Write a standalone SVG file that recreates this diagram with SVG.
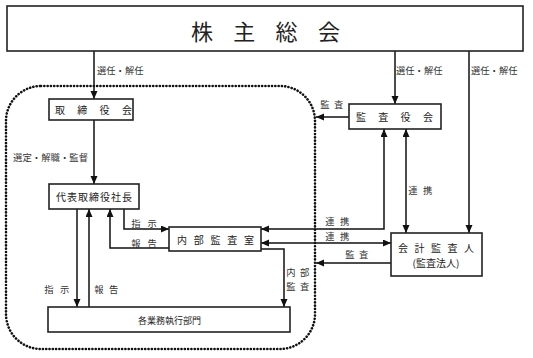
<svg xmlns="http://www.w3.org/2000/svg" width="533" height="358" viewBox="0 0 533 358">
<defs>
<marker id="ah" markerUnits="userSpaceOnUse" markerWidth="9" markerHeight="8" refX="8" refY="3.5" orient="auto-start-reverse">
<path d="M0,0 L8,3.5 L0,7 z" fill="#111"/>
</marker>
<style>
.box{fill:#fff;stroke:#222;stroke-width:1.6}
.t{font-family:"Noto Sans CJK JP","Noto Sans CJK SC",sans-serif;fill:#222;font-size:10px}
.l{font-family:"Noto Sans CJK JP","Noto Sans CJK SC",sans-serif;fill:#333;font-size:9.3px}
.c{fill:none;stroke:#111;stroke-width:1.5}
.a{marker-end:url(#ah)}
.b{marker-start:url(#ah);marker-end:url(#ah)}
.dot{fill:none;stroke:#111;stroke-width:2.6;stroke-dasharray:0.1 3.2;stroke-linecap:round}
</style>
</defs>
<rect class="dot" x="6" y="86" width="309" height="263" rx="35"/>
<g id="connectors">
<path class="c a" d="M94,51 V99"/>
<path class="c a" d="M395,51 V104"/>
<path class="c a" d="M469,51 V233"/>
<path class="c a" d="M94,120 V184"/>
<path class="c a" d="M349,117 H316"/>
<path class="c a" d="M77,209 V307"/>
<path class="c a" d="M89,307 V209"/>
<path class="c a" d="M124,209 V229 H169"/>
<path class="c a" d="M169,248 H110 V209"/>
<path class="c b" d="M261,229 H384 V129"/>
<path class="c b" d="M261,243 H391"/>
<path class="c b" d="M406,129 V233"/>
<path class="c a" d="M391,263 H316"/>
<path class="c a" d="M261,249 H284 V307"/>
<text class="l" x="97" y="73.6">選任・解任</text>
<text class="l" x="396" y="73.6">選任・解任</text>
<text class="l" x="471" y="73.6">選任・解任</text>
<text class="l" x="13" y="160.6" style="font-size:9.4px">選定・解職・監督</text>
<text class="l" x="320.3" y="107.6" letter-spacing="4.5">監査</text>
<text class="l" x="408.3" y="193.6" letter-spacing="5.5">連携</text>
<text class="l" x="325.3" y="224.6" letter-spacing="5.5">連携</text>
<text class="l" x="325.3" y="239.6" letter-spacing="5.5">連携</text>
<text class="l" x="345.3" y="257.6" letter-spacing="4.5">監査</text>
<text class="l" x="131.3" y="226.6" letter-spacing="7">指示</text>
<text class="l" x="131.3" y="246.6" letter-spacing="7">報告</text>
<text class="l" x="44.3" y="292.6" letter-spacing="6.5">指示</text>
<text class="l" x="94.3" y="292.6" letter-spacing="5.5">報告</text>
<text class="l" x="286.3" y="276" letter-spacing="4.5">内部</text>
<text class="l" x="286.3" y="290" letter-spacing="4.5">監査</text>
</g>
<g id="shareholders">
<rect class="box" x="7" y="6" width="516" height="45"/>
<text class="t" x="191" y="40.4" style="font-size:22px" letter-spacing="20.3">株主総会</text>
</g>
<g id="board">
<rect class="box" x="49" y="99" width="84" height="21"/>
<text class="t" x="55" y="114" letter-spacing="12.3">取締役会</text>
</g>
<g id="auditboard">
<rect class="box" x="349" y="104" width="92" height="25"/>
<text class="t" x="356" y="120.5" letter-spacing="12.3">監査役会</text>
</g>
<g id="president">
<rect class="box" x="49" y="184" width="90" height="25"/>
<text class="t" x="56" y="201.3" letter-spacing="1">代表取締役社長</text>
</g>
<g id="internalaudit">
<rect class="box" x="169" y="227" width="92" height="24"/>
<text class="t" x="177" y="243.5" letter-spacing="6.75">内部監査室</text>
</g>
<g id="accountant">
<rect class="box" x="391" y="233" width="91" height="43"/>
<text class="t" x="398" y="251.8" letter-spacing="6.5">会計監査人</text>
<text class="t" x="436" y="266.8" text-anchor="middle">(監査法人)</text>
</g>
<g id="divisions">
<rect class="box" x="48" y="307" width="242" height="25"/>
<text class="t" x="138" y="323.5" style="font-size:9px">各業務執行部門</text>
</g>
</svg>
